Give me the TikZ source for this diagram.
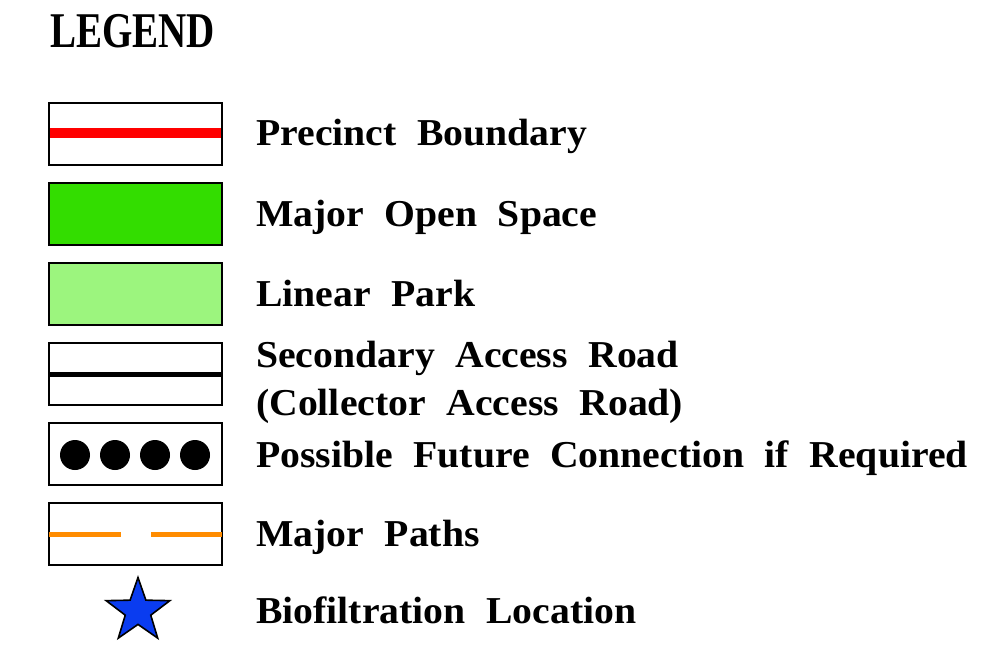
\documentclass[tikz,border=0pt]{standalone}
\usepackage{fontspec}
\setmainfont[FakeStretch=1.045]{Liberation Serif}
\newfontfamily\titlefont[FakeStretch=0.78]{Liberation Serif}
\definecolor{bndred}{HTML}{FF0000}
\definecolor{majgreen}{HTML}{33DD00}
\definecolor{lingreen}{HTML}{9CF57E}
\definecolor{pathorange}{HTML}{FF8C00}
\definecolor{starblue}{HTML}{0A3CF0}
\usetikzlibrary{shapes.geometric}
\newcommand\keyfont{\bfseries\fontsize{38}{42}\selectfont\spaceskip=0.54em plus 0.1em\relax}
\tikzset{
  keybox/.style={draw=black, line width=2.6pt},
  keytext/.style={anchor=base west, inner sep=0pt, font=\keyfont},
}
\begin{document}
\begin{tikzpicture}[x=1pt,y=-1pt]
                \useasboundingbox (0,0) rectangle (982,663);
                \node[anchor=base west, inner sep=0pt, font=\titlefont\bfseries\fontsize{50}{54}\selectfont] (title) at (50,48) {LEGEND};
                % keys
                \draw[keybox] (49,103) rectangle (222,165);
                \draw[bndred, line width=10pt] (49,133.5) -- (222,133.5);
                \draw[keybox] (49,103) rectangle (222,165);
                \draw[keybox, fill=majgreen] (49,183) rectangle (222,245);
                \draw[keybox, fill=lingreen] (49,263) rectangle (222,325);
                \draw[keybox] (49,343) rectangle (222,405);
                \draw[black, line width=5pt] (49,374.5) -- (222,374.5);
                \draw[keybox] (49,423) rectangle (222,485);
                \foreach \dx in {75,115,155,195}
                  \fill (\dx,455) circle (15);
                \draw[keybox] (49,503) rectangle (222,565);
                \draw[pathorange, line width=5pt] (49,534) -- (121,534) (151,534) -- (222,534);
                \node[star, star points=5, star point ratio=2.5, minimum size=67pt, inner sep=0pt, draw=black, line width=1.6pt, fill=starblue] (bio) at (138,611) {};
                % labels
                \node[keytext] (L1) at (256,146) {Precinct Boundary};
                \node[keytext] (L2) at (256,226) {Major Open Space};
                \node[keytext] (L3) at (256,306) {Linear Park};
                \node[keytext] (L4) at (256,367) {Secondary Access Road};
                \node[keytext] (L5) at (256,415) {(Collector Access Road)};
                \node[keytext] (L6) at (256,467) {Possible Future Connection if Required};
                \node[keytext] (L7) at (256,546) {Major Paths};
                \node[keytext] (L8) at (256,623) {Biofiltration Location};
\end{tikzpicture}
\end{document}
